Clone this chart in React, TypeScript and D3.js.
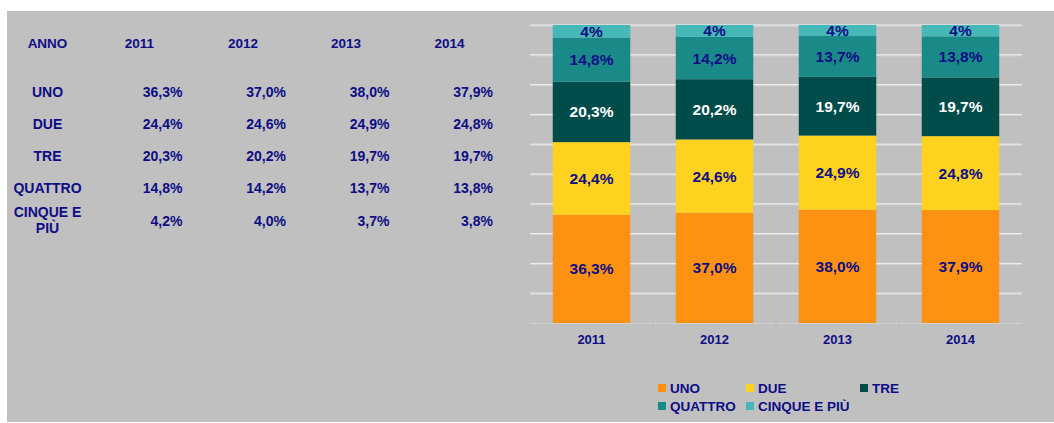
import * as d3 from 'd3';

const years = ['2011', '2012', '2013', '2014'];
const series = ['UNO', 'DUE', 'TRE', 'QUATTRO', 'CINQUE E PIÙ'];
const uno = [36.3, 37.0, 38.0, 37.9];
const due = [24.4, 24.6, 24.9, 24.8];
const tre = [20.3, 20.2, 19.7, 19.7];
const quattro = [14.8, 14.2, 13.7, 13.8];
const cinque = [4.2, 4.0, 3.7, 3.8];
const yTicks = [0, 10, 20, 30, 40, 50, 60, 70, 80, 90, 100];

const colors = ['#fd9212', '#ffd220', '#004c4a', '#1a8a88', '#47b8b8'];
const labelColors = ['#0d0d85', '#0d0d85', '#ffffff', '#0d0d85', '#0d0d85'];
const labelDecimals = [1, 1, 1, 1, 0];
const navy = '#0d0d85';
const font = '"Liberation Sans", Arial, sans-serif';

const values = [uno, due, tre, quattro, cinque];

const fmt = (v: number, d: number) => v.toFixed(d).replace('.', ',') + '%';

export default function App() {
  const x = d3.scaleBand().domain(years).range([530, 1022]);
  const y = d3.scaleLinear().domain([0, 100]).range([323, 25]);
  const barW = x.bandwidth() * 0.63;

  const rows = years.map((yr, i) => {
    const r: any = { year: yr };
    series.forEach((s, k) => (r[s] = values[k][i]));
    return r;
  });
  const stacked = d3.stack().keys(series)(rows);

  // table layout
  const colRight = [182.5, 286, 389.5, 493];
  const colCenter = [139.5, 243, 346, 449.5];
  const rowBase = [97, 129, 161, 193, 226];

  return (
    <svg width={1054} height={423} style={{ position: 'absolute', left: 0, top: 0 }}
      fontFamily={font} fontWeight="bold">
      <rect x={0} y={0} width={1054} height={423} fill="#fff" />
      <rect x={7} y={11} width={1047} height={411} fill="#c0c0c0" />

      {/* table */}
      <g fill={navy} fontSize={14}>
        <text x={47.5} y={48} textAnchor="middle" fontSize={13.5}>ANNO</text>
        {years.map((yr, i) => (
          <text key={yr} x={colCenter[i]} y={48} textAnchor="middle" fontSize={13.5}>{yr}</text>
        ))}
        {series.slice(0, 4).map((s, k) => (
          <text key={s} x={47.5} y={rowBase[k]} textAnchor="middle">{s}</text>
        ))}
        <text x={47.5} y={217} textAnchor="middle">CINQUE E</text>
        <text x={47.5} y={233} textAnchor="middle">PIÙ</text>
        {values.map((vals, k) =>
          vals.map((v, i) => (
            <text key={k + '-' + i} x={colRight[i]} y={rowBase[k]} textAnchor="end">
              {fmt(v, 1)}
            </text>
          ))
        )}
      </g>

      {/* gridlines */}
      {yTicks.slice(1).map(t => (
        <g key={t}>
          <line x1={530} x2={1022} y1={y(t) + 1} y2={y(t) + 1} stroke="#d4d4d4" />
          <line x1={530} x2={1022} y1={y(t)} y2={y(t)} stroke="#f2f2f2" />
        </g>
      ))}

      {/* bars */}
      {stacked.map((layer, k) => (
        <g key={layer.key} fill={colors[k]}>
          {layer.map((d, i) => (
            <rect key={i}
              x={(x(years[i]) as number) + (x.bandwidth() - barW) / 2}
              y={y(d[1])}
              width={barW}
              height={y(d[0]) - y(d[1])} />
          ))}
        </g>
      ))}
      {stacked.map((layer, k) => (
        <g key={'l' + layer.key} fill={labelColors[k]} fontSize={15.5} textAnchor="middle">
          {layer.map((d, i) => (
            <text key={i}
              x={(x(years[i]) as number) + x.bandwidth() / 2}
              y={(y(d[0]) + y(d[1])) / 2 + 5.5}>
              {fmt(values[k][i], labelDecimals[k])}
            </text>
          ))}
        </g>
      ))}

      {/* x axis */}
      <line x1={530} x2={1022} y1={323.5} y2={323.5} stroke="#d0d0d0" />
      {[...years.map(yr => x(yr) as number), 1022].map((tx, i) => (
        <line key={i} x1={tx} x2={tx} y1={323} y2={328} stroke="#b8b8b8" />
      ))}
      {years.map(yr => (
        <text key={yr} x={(x(yr) as number) + x.bandwidth() / 2} y={344}
          textAnchor="middle" fill={navy} fontSize={13}>{yr}</text>
      ))}

      {/* legend */}
      {series.map((s, k) => {
        const lx = [658, 746, 860, 658, 746][k];
        const ly = [393, 393, 393, 411, 411][k];
        return (
          <g key={s}>
            <rect x={lx} y={ly - 9} width={8} height={8} fill={colors[k]} />
            <text x={lx + 12} y={ly} fill={navy} fontSize={13.5}>{s}</text>
          </g>
        );
      })}
    </svg>
  );
}
